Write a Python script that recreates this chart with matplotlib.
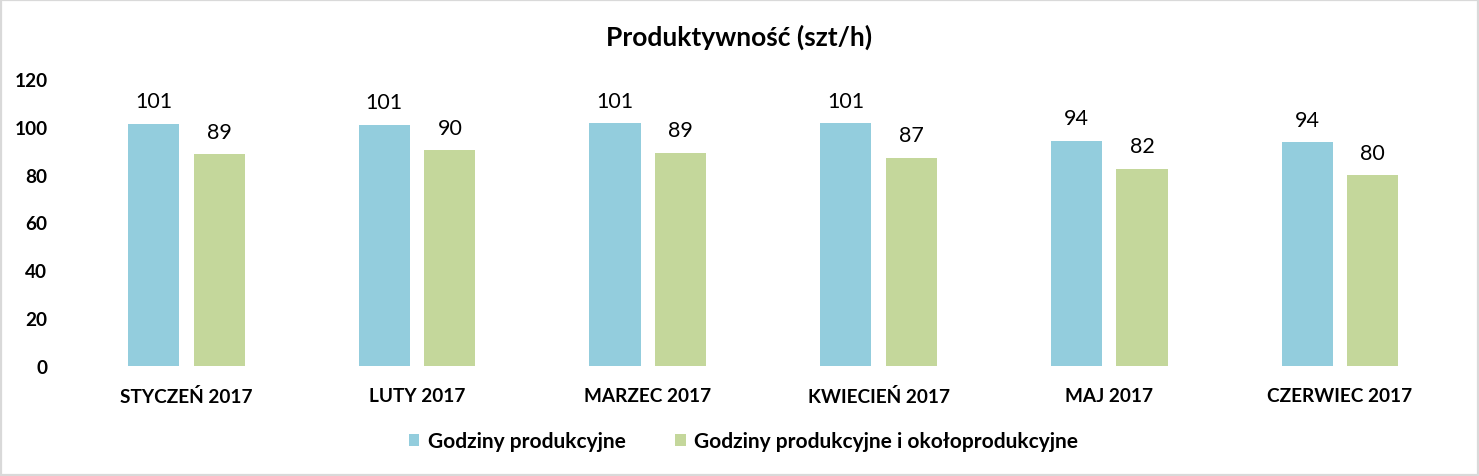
import matplotlib
matplotlib.use("Agg")
import matplotlib.pyplot as plt
from matplotlib.patches import Rectangle
import numpy as np

categories = ["STYCZEŃ 2017", "LUTY 2017", "MARZEC 2017", "KWIECIEŃ 2017", "MAJ 2017", "CZERWIEC 2017"]
series1_name = "Godziny produkcyjne"
series2_name = "Godziny produkcyjne i okołoprodukcyjne"
series1 = [101.2, 100.8, 101.6, 101.6, 94.1, 93.6]
series2 = [88.6, 90.3, 89.1, 87.0, 82.4, 79.8]
labels1 = ["101", "101", "101", "101", "94", "94"]
labels2 = ["89", "90", "89", "87", "82", "80"]
yticks = [0, 20, 40, 60, 80, 100, 120]

blue = "#93CDDD"
green = "#C4D79B"
font = "Lato"

fig = plt.figure(figsize=(14.79, 4.77), dpi=100)
fig.patch.set_facecolor("white")
fig.add_artist(Rectangle((0.0007, 0.0015), 0.9986, 0.997, transform=fig.transFigure,
                         fill=False, edgecolor="#D9D9D9", linewidth=1.6))

ax = fig.add_axes([0.048, 0.2306, 0.936, 0.6017])
x = np.arange(len(categories))
w = 0.222
b1 = ax.bar(x - 0.142, series1, width=w, color=blue, label=series1_name)
b2 = ax.bar(x + 0.142, series2, width=w, color=green, label=series2_name)

for bars, labs in ((b1, labels1), (b2, labels2)):
    for rect, lab in zip(bars, labs):
        ax.annotate(lab, (rect.get_x() + rect.get_width() / 2, rect.get_height()),
                    xytext=(0, 9), textcoords="offset points", ha="center", va="bottom",
                    fontsize=15.5, family=font, color="black")

ax.set_xlim(-0.5, len(categories) - 0.5)
ax.set_ylim(0, 120)
ax.set_yticks(yticks)
ax.set_yticklabels([str(t) for t in yticks], fontsize=13.7, family=font, fontweight="bold")
ax.set_xticks(x)
ax.set_xticklabels(categories, fontsize=13.7, family=font, fontweight="bold")
ax.tick_params(axis="both", length=0)
ax.tick_params(axis="x", pad=15)
ax.tick_params(axis="y", pad=17)
for s in ax.spines.values():
    s.set_visible(False)

fig.text(0.5, 0.922, "Produktywność (szt/h)", ha="center", va="center",
         fontsize=19, family=font, fontweight="bold")

leg = fig.legend(handles=[b1, b2], loc="center", bbox_to_anchor=(0.5027, 0.073),
                 ncol=2, frameon=False, handlelength=0.5, handleheight=0.5,
                 handletextpad=0.4, columnspacing=2.4,
                 prop={"family": font, "weight": "bold", "size": 15})

fig.savefig("out.png", dpi=100, facecolor="white")
